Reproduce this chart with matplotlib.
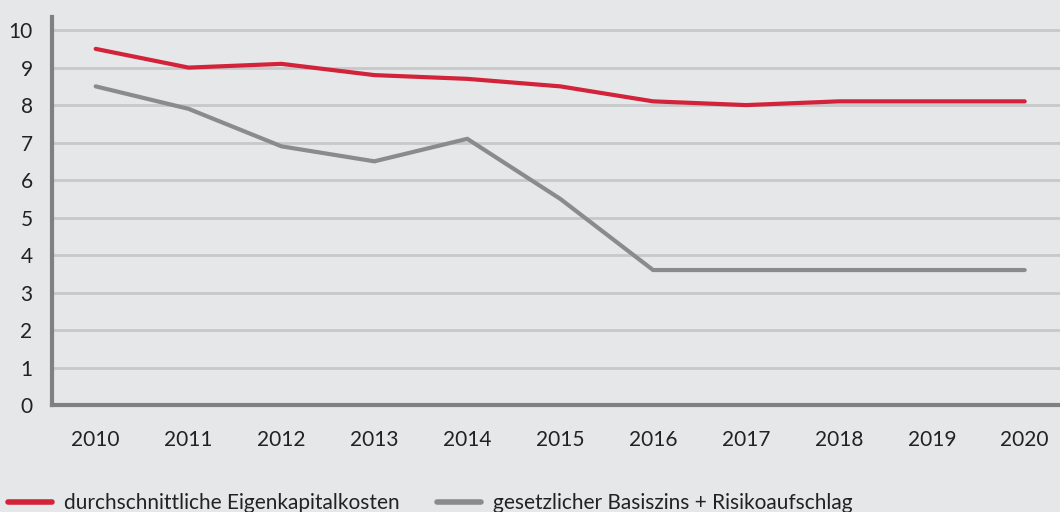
import matplotlib
matplotlib.use("Agg")
import matplotlib.pyplot as plt
from matplotlib.lines import Line2D

years = [2010, 2011, 2012, 2013, 2014, 2015, 2016, 2017, 2018, 2019, 2020]
eigenkapitalkosten = [9.5, 9.0, 9.1, 8.8, 8.7, 8.5, 8.1, 8.0, 8.1, 8.1, 8.1]
basiszins_risiko = [8.5, 7.9, 6.9, 6.5, 7.1, 5.5, 3.6, 3.6, 3.6, 3.6, 3.6]
y_ticks = [0, 1, 2, 3, 4, 5, 6, 7, 8, 9, 10]
labels = ["durchschnittliche Eigenkapitalkosten", "gesetzlicher Basiszins + Risikoaufschlag"]

BG = "#e6e7e8"
RED = "#d2233a"
GRAY = "#8b8b8e"
GRID = "#c7c8ca"
SPINE = "#808080"
TXT = "#222222"

plt.rcParams['font.family'] = ['Lato', 'DejaVu Sans']

fig = plt.figure(figsize=(10.6, 5.12), dpi=100, facecolor=BG)
ax = fig.add_axes([52/1060, 107/512, 1 - 52/1060, (495-107)/512])
ax.set_facecolor(BG)

ax.plot(years, eigenkapitalkosten, color=RED, lw=3.0, solid_capstyle='round', solid_joinstyle='miter', zorder=3)
ax.plot(years, basiszins_risiko, color=GRAY, lw=3.0, solid_capstyle='round', solid_joinstyle='miter', zorder=3)

ax.set_xlim(2009.53, 2020.38)
ax.set_ylim(0, 10.35)
ax.set_yticks(y_ticks)
ax.set_xticks(years)
ax.set_xticklabels([str(y) for y in years])
for y in y_ticks[1:]:
    ax.axhline(y, color=GRID, lw=2.0, zorder=1)

for s in ['top', 'right']:
    ax.spines[s].set_visible(False)
for s in ['left', 'bottom']:
    ax.spines[s].set_color(SPINE)
    ax.spines[s].set_linewidth(3.0)
    ax.spines[s].set_zorder(4)

ax.tick_params(axis='both', length=0, labelsize=15, colors=TXT)
ax.tick_params(axis='y', pad=14)
ax.tick_params(axis='x', pad=18)

colors = [RED, GRAY]
anchors = [(7/1060 - 0.007, -0.019), (437/1060 - 0.008, -0.019)]
for lab, col, anc in zip(labels, colors, anchors):
    h = Line2D([0], [0], color=col, lw=4, solid_capstyle='round')
    fig.legend([h], [lab], loc='lower left', bbox_to_anchor=anc, frameon=False,
               fontsize=15, handlelength=2.1, handletextpad=0.6, labelcolor=TXT,
               borderaxespad=0.0)

fig.savefig("out.png", dpi=100, facecolor=BG)
